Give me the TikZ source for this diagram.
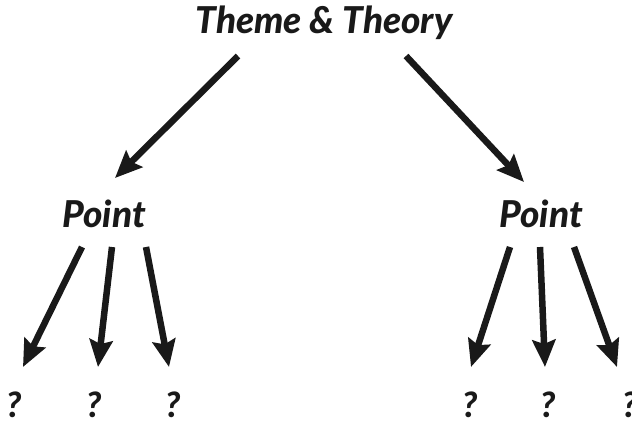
\documentclass[tikz,border=0pt]{standalone}
\usepackage{fontspec}
\setmainfont{Lato}[BoldItalicFont={Lato Black Italic}]
\usetikzlibrary{arrows.meta}
\begin{document}
\begin{tikzpicture}[x=1pt,y=-1pt,
  lbl/.style={font=\fontsize{37}{42}\selectfont\bfseries\itshape, text=black!90, inner sep=0pt, anchor=base},
  qm/.style={font=\fontsize{35}{40}\selectfont\bfseries\itshape, text=black!90, inner sep=0pt, anchor=base},
  arr/.style={line width=6.5pt, black!90, -{Stealth[length=27pt,width=23pt,inset=4pt]}}]
\useasboundingbox (0,0) rectangle (632,423);
\node[lbl] (title) at (324,34) {Theme \& Theory};
\node[lbl] (pl) at (104,227) {Point};
\node[lbl] (pr) at (541,227) {Point};
\node[qm] (q1) at (14,417) {?};
\node[qm] (q2) at (94,417) {?};
\node[qm] (q3) at (173,417) {?};
\node[qm] (q4) at (470,417) {?};
\node[qm] (q5) at (548,417) {?};
\node[qm] (q6) at (630,417) {?};
\coordinate (ts1) at (238,56);
\coordinate (ts2) at (406,56);
\coordinate (pls1) at (82,247);
\coordinate (pls2) at (112,247);
\coordinate (pls3) at (146,247);
\coordinate (prs1) at (510,247);
\coordinate (prs2) at (540,247);
\coordinate (prs3) at (574,247);
\coordinate (tl) at (115,178);
\coordinate (tr) at (524,182);
\coordinate (e1) at (23,367);
\coordinate (e2) at (98,367);
\coordinate (e3) at (169,367);
\coordinate (e4) at (471,367);
\coordinate (e5) at (545,367);
\coordinate (e6) at (617,367);
\draw[arr] (ts1) -- (tl);
\draw[arr] (ts2) -- (tr);
\draw[arr] (pls1) -- (e1);
\draw[arr] (pls2) -- (e2);
\draw[arr] (pls3) -- (e3);
\draw[arr] (prs1) -- (e4);
\draw[arr] (prs2) -- (e5);
\draw[arr] (prs3) -- (e6);
\end{tikzpicture}
\end{document}
